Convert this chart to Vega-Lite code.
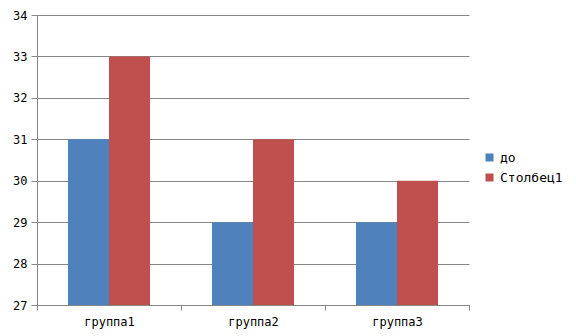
{
  "$schema": "https://vega.github.io/schema/vega-lite/v6.json",
  "width": 432,
  "height": 290,
  "autosize": {"type": "none"},
  "padding": {"left": 37, "top": 15, "right": 107, "bottom": 31},
  "background": "white",
  "config": {
    "view": {"stroke": null},
    "font": "DejaVu Sans Mono",
    "axis": {"labelFont": "DejaVu Sans Mono", "labelFontSize": 12, "labelColor": "#000000", "domainColor": "#868686", "tickColor": "#868686", "gridColor": "#868686", "gridOpacity": 1}
  },
  "data": {
    "values": [
      {"group": "группа1", "series": "до", "value": 31},
      {"group": "группа1", "series": "Столбец1", "value": 33},
      {"group": "группа2", "series": "до", "value": 29},
      {"group": "группа2", "series": "Столбец1", "value": 31},
      {"group": "группа3", "series": "до", "value": 29},
      {"group": "группа3", "series": "Столбец1", "value": 30}
    ]
  },
  "mark": {"type": "bar", "clip": true},
  "encoding": {
    "x": {
      "field": "group", "type": "nominal", "sort": null,
      "scale": {"paddingInner": 0, "paddingOuter": 0},
      "axis": {"title": null, "labelAngle": 0, "ticks": true, "tickBand": "extent", "tickSize": 5, "labelPadding": 6, "domain": true, "grid": false}
    },
    "xOffset": {
      "field": "series", "type": "nominal", "sort": ["до", "Столбец1"],
      "scale": {"paddingInner": 0, "paddingOuter": 0.756}
    },
    "y": {
      "field": "value", "type": "quantitative",
      "scale": {"domain": [27, 34], "zero": false, "nice": false},
      "axis": {"title": null, "values": [27, 28, 29, 30, 31, 32, 33, 34], "tickSize": 6, "labelPadding": 4, "grid": true, "domain": true}
    },
    "y2": {"datum": 27},
    "color": {
      "field": "series", "type": "nominal", "sort": ["до", "Столбец1"],
      "scale": {"domain": ["до", "Столбец1"], "range": ["#4F81BD", "#C0504D"]},
      "legend": {"title": null, "orient": "none", "legendX": 446, "legendY": 136, "symbolType": "square", "symbolSize": 64, "symbolStrokeWidth": 0, "labelFont": "DejaVu Sans Mono", "labelFontSize": 13, "labelColor": "#000000", "labelOffset": 4, "rowPadding": 6, "symbolOpacity": 1}
    }
  }
}
